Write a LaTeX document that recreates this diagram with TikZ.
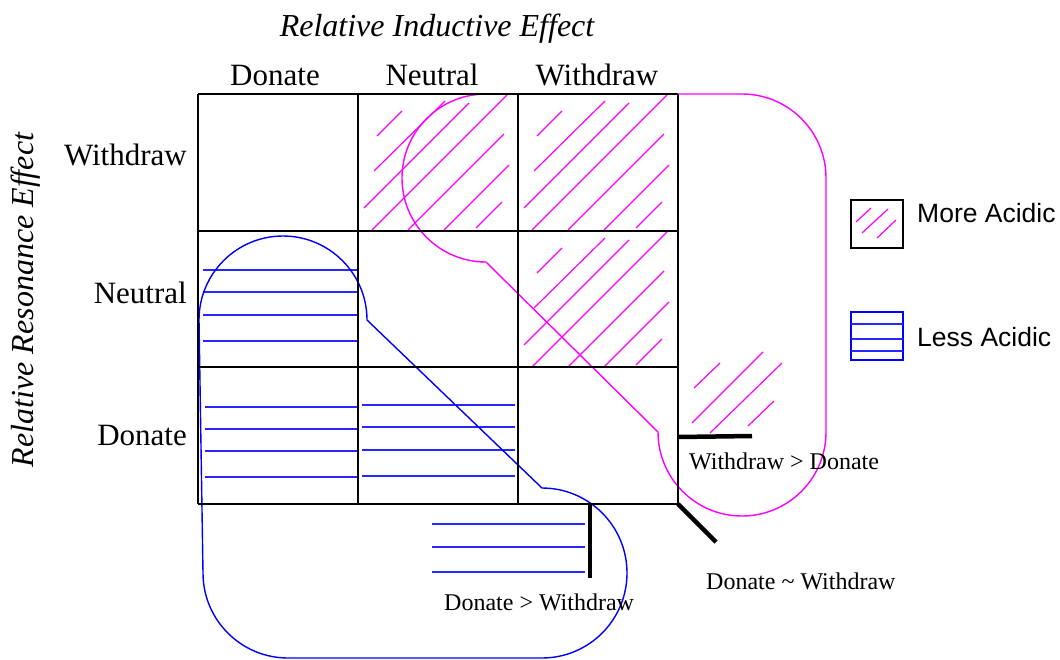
\documentclass[tikz,border=0pt]{standalone}
\usepackage{fontspec}
\setmainfont{Liberation Serif}
\newfontfamily\legendfont{Liberation Sans}
\definecolor{AcidMagenta}{RGB}{255, 0, 255}
\definecolor{BaseBlue}{RGB}{0, 0, 255}
\usetikzlibrary{positioning}

\begin{document}
\begin{tikzpicture}[x=1pt, y=-1pt,
    gridline/.style={line width=2.5pt},
    morehatch/.style={AcidMagenta, line width=1.2pt},
    lesshatch/.style={BaseBlue!85, line width=1.5pt},
    outline/.style={line width=1.4pt},
    marker/.style={line width=4.5pt},
    axislabel/.style={font=\fontsize{31}{36}\selectfont, inner sep=0pt},
    axistitle/.style={font=\fontsize{32}{38}\selectfont\itshape, inner sep=0pt, anchor=base},
    caselabel/.style={font=\fontsize{24}{28}\selectfont, inner sep=0pt, anchor=base west},
    legendtext/.style={font=\legendfont\fontsize{26.5}{30}\selectfont, inner sep=0pt, anchor=base west}]
    \useasboundingbox (0,0) rectangle (1060,659);

    % More acidic hatching (same pattern in each cell)
    \foreach \cx/\cy in {358/94, 518/94, 518/231} {
        \begin{scope}[shift={(\cx,\cy)}]
            \foreach \ax/\ay/\bx/\by in {19/42/44/17, 16/77/87/7, 6/114/111/9, 14/136/149/1, 50/136/146/40, 86/136/151/71, 118/134/144/108}
                \draw[morehatch] (\ax,\ay) -- (\bx,\by);
        \end{scope}
    }
    \foreach \ax/\ay/\bx/\by in {694/388/720/363, 692/423/763/352, 710/433/782/363, 748/426/774/401}
        \draw[morehatch] (\ax,\ay) -- (\bx,\by);

    % Less acidic hatching
    \foreach \y in {270, 292, 315, 341} \draw[lesshatch] (203,\y) -- (357,\y);
    \foreach \y in {407, 429, 451, 477} \draw[lesshatch] (205,\y) -- (357,\y);
    \foreach \y in {405, 427, 450, 476} \draw[lesshatch] (362,\y) -- (515,\y);
    \foreach \y in {524, 547, 572} \draw[lesshatch] (432,\y) -- (585,\y);

    % Outlines of the two regions
    \draw[outline, AcidMagenta] (486,262) arc[start angle=90, end angle=270, radius=84] -- (742,94)
        arc[start angle=270, end angle=360, radius=84] -- (826,432)
        arc[start angle=0, end angle=180, radius=84] -- cycle;
    \draw[outline, BaseBlue] (203,573) -- (199,320) arc[start angle=180, end angle=360, radius=84] -- (542,488)
        arc[start angle=270, end angle=450, radius=85] -- (288,658)
        arc[start angle=90, end angle=180, radius=85] -- cycle;

    % Grid
    \foreach \x in {198, 358, 518, 678} \draw[gridline] (\x,94) -- (\x,504);
    \foreach \y in {94, 231, 367, 504} \draw[gridline] (198,\y) -- (678,\y);

    % Boundary markers
    \draw[marker] (678,437) -- (752,436);
    \draw[marker] (590,504) -- (590,578);
    \draw[marker] (678,504) -- (716,542);

    % Axis labels
    \node[axistitle] (inductive) at (437,36) {Relative Inductive Effect};
    \node[axistitle, rotate=90] (resonance) at (33,300) {Relative Resonance Effect};
    \foreach \name/\cx/\txt in {coldonate/275/Donate, colneutral/432/Neutral, colwithdraw/597/Withdraw}
        \node[axislabel, anchor=base] (\name) at (\cx,85) {\txt};
    \foreach \name/\cy/\txt in {rowwithdraw/165/Withdraw, rowneutral/303/Neutral, rowdonate/445/Donate}
        \node[axislabel, anchor=base east] (\name) at (187,\cy) {\txt};

    % Case labels
    \node[caselabel] (wdgtd) at (689,469) {Withdraw > Donate};
    \node[caselabel] (dgtwd) at (444,610) {Donate > Withdraw};
    \node[caselabel] (dsimwd) at (706,589) {Donate \textasciitilde{} Withdraw};

    % Legend
    \draw[line width=1.5pt] (851,200) rectangle (903,248);
    \foreach \ax/\ay/\bx/\by in {856/222/871/208, 862/233/888/209, 877/238/896/220}
        \draw[morehatch] (\ax,\ay) -- (\bx,\by);
    \node[legendtext] (moreacidic) at (917,222) {More Acidic};
    \draw[BaseBlue, line width=2pt] (851,312) rectangle (903,360);
    \foreach \y in {324, 339, 351} \draw[lesshatch] (851,\y) -- (903,\y);
    \node[legendtext] (lessacidic) at (917,346) {Less Acidic};
\end{tikzpicture}
\end{document}
